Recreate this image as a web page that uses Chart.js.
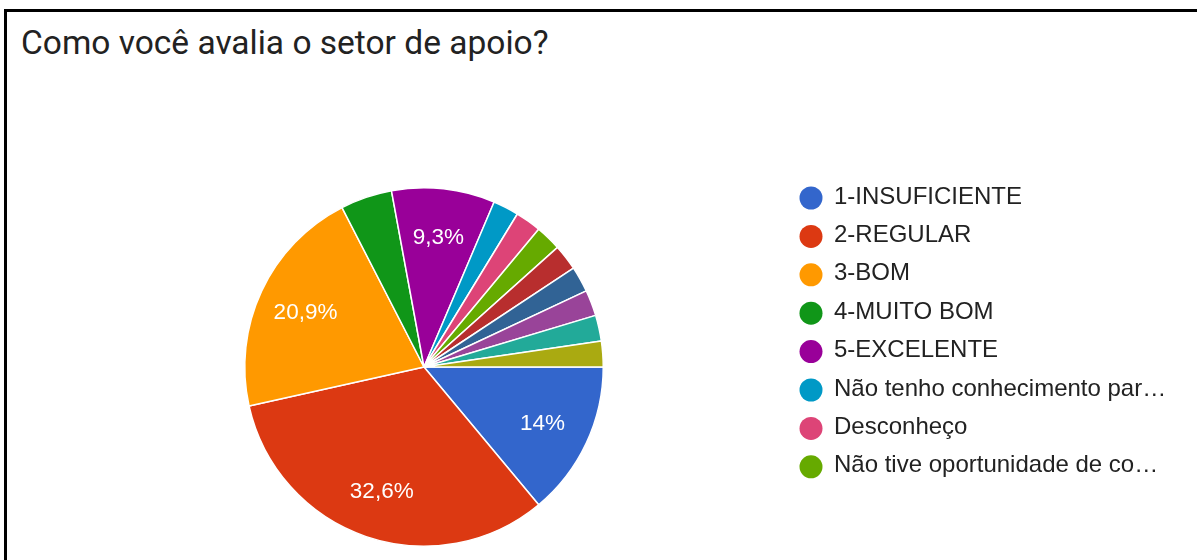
<!DOCTYPE html>
<html>
<head>
<meta charset="utf-8">
<script src="https://cdn.jsdelivr.net/npm/chart.js@4/dist/chart.umd.min.js"></script>
<style>
    html, body { margin: 0; padding: 0; background: #fff; }
    #wrap { position: relative; width: 1197px; height: 560px; overflow: hidden; }
    #moldura {
        position: absolute; left: 4px; top: 9px; width: 1200px; height: 600px;
        border-left: 3px solid #000; border-top: 3px solid #000;
    }
    #titulo {
        position: absolute; left: 21px; top: 23px; margin: 0;
        font-family: Roboto, "Noto Sans", sans-serif; font-weight: 400;
        font-size: 33.5px; color: #222; white-space: nowrap;
    }
    canvas { position: absolute; left: 0; top: 0; }
</style>
</head>
<body>
<div id="wrap">
    <div id="moldura"></div>
    <h1 id="titulo">Como você avalia o setor de apoio?</h1>
    <canvas id="grafico" width="1197" height="560"></canvas>
</div>
<script>
// Respostas (número de pessoas por opção)
const opcoes = [
    "1-INSUFICIENTE",
    "2-REGULAR",
    "3-BOM",
    "4-MUITO BOM",
    "5-EXCELENTE",
    "Não tenho conhecimento par…",
    "Desconheço",
    "Não tive oportunidade de co…",
    "Outra resposta 1",
    "Outra resposta 2",
    "Outra resposta 3",
    "Outra resposta 4",
    "Outra resposta 5"
];
const respostas = [6, 14, 9, 2, 4, 1, 1, 1, 1, 1, 1, 1, 1];
const cores = [
    "#3366cc", "#dc3912", "#ff9900", "#109618", "#990099", "#0099c6",
    "#dd4477", "#66aa00", "#b82e2e", "#316395", "#994499", "#22aa99", "#aaaa11"
];
// quantas entradas cabem na legenda
const itensLegenda = 8;

function formatarPct(v, total) {
    const p = Math.round(v / total * 1000) / 10;
    return (Number.isInteger(p) ? p.toString() : p.toFixed(1)).replace(".", ",") + "%";
}

// Rótulos de porcentagem dentro das fatias grandes
const rotulosPct = {
    id: "rotulosPct",
    afterDatasetsDraw(chart) {
        const ctx = chart.ctx;
        const meta = chart.getDatasetMeta(0);
        const dados = chart.data.datasets[0].data;
        const total = dados.reduce((a, b) => a + b, 0);
        ctx.save();
        ctx.font = "22.5px 'Liberation Sans', Arial, sans-serif";
        ctx.fillStyle = "#fff";
        ctx.textAlign = "center";
        ctx.textBaseline = "middle";
        meta.data.forEach((arc, i) => {
            if (dados[i] / total < 0.05) return;
            const meio = (arc.startAngle + arc.endAngle) / 2;
            const d = arc.outerRadius * 0.73;
            ctx.fillText(formatarPct(dados[i], total), arc.x + Math.cos(meio) * d, arc.y + Math.sin(meio) * d + 1);
        });
        ctx.restore();
    }
};

// Legenda desenhada à direita da pizza
const legendaLateral = {
    id: "legendaLateral",
    afterDraw(chart) {
        const ctx = chart.ctx;
        ctx.save();
        ctx.font = "24px 'Liberation Sans', Arial, sans-serif";
        ctx.textBaseline = "middle";
        for (let i = 0; i < itensLegenda; i++) {
            const y = 198 + i * 38.4;
            ctx.beginPath();
            ctx.arc(811, y, 11.5, 0, Math.PI * 2);
            ctx.fillStyle = cores[i];
            ctx.fill();
            ctx.fillStyle = "#222";
            ctx.fillText(opcoes[i], 834, y - 1);
        }
        ctx.restore();
    }
};

const ctx = document.getElementById("grafico").getContext("2d");
new Chart(ctx, {
    type: "pie",
    data: {
        labels: opcoes,
        datasets: [{
            data: respostas,
            backgroundColor: cores,
            borderColor: "#fff",
            borderWidth: 1.5
        }]
    },
    options: {
        responsive: false,
        animation: false,
        rotation: 90,
        layout: { padding: { left: 244, right: 593, top: 187, bottom: 13 } },
        plugins: {
            legend: { display: false },
            tooltip: { enabled: false }
        }
    },
    plugins: [rotulosPct, legendaLateral]
});
</script>
</body>
</html>
